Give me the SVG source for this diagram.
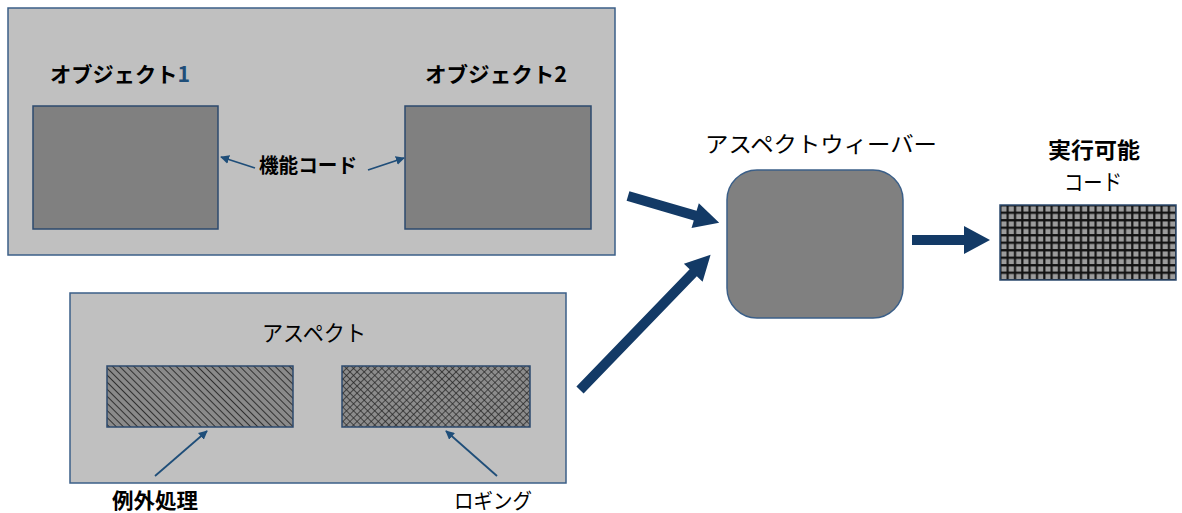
<svg xmlns="http://www.w3.org/2000/svg" width="1182" height="513" viewBox="0 0 1182 513">
  <style>
    .panel { fill: #c0c0c0; stroke: #3b5f88; stroke-width: 1.5; }
    .obj { fill: #808080; stroke: #2c4a6e; stroke-width: 1.5; }
    .lbl { font-family: "Noto Sans CJK JP", "Noto Sans", sans-serif; fill: #000; }
    .b { font-weight: bold; }
    .thin { stroke: #1f4e79; stroke-width: 1.8; fill: none; }
    .thick { fill: #133a66; }
  </style>
  <defs>
    <!-- diagonal hatch for exception handling -->
    <pattern id="hatch" patternUnits="userSpaceOnUse" width="5" height="5" patternTransform="rotate(-45)">
      <rect width="5" height="5" fill="#8a8a8a"/>
      <line x1="0" y1="0" x2="0" y2="5" stroke="#1a1a1a" stroke-width="1.6"/>
    </pattern>
    <!-- diamond crosshatch for logging -->
    <pattern id="cross" patternUnits="userSpaceOnUse" width="5" height="5" patternTransform="rotate(45)">
      <rect width="5" height="5" fill="#8c8c8c"/>
      <line x1="0" y1="0" x2="0" y2="5" stroke="#222" stroke-width="1.4"/>
      <line x1="0" y1="0" x2="5" y2="0" stroke="#222" stroke-width="1.4"/>
    </pattern>
    <!-- square grid for executable code -->
    <pattern id="grid" patternUnits="userSpaceOnUse" x="1000" y="205" width="7.33" height="7.5">
      <rect width="7.33" height="7.5" fill="#111"/>
      <rect x="1.4" y="1.4" width="5.2" height="5.2" fill="#9c9c9c"/>
    </pattern>
    <marker id="tip" viewBox="0 0 10 10" refX="9" refY="5" markerWidth="5" markerHeight="5" orient="auto">
      <path d="M0,0 L10,5 L0,10 Z" fill="#1f4e79"/>
    </marker>
  </defs>

  <!-- objects panel -->
  <g id="objects">
    <rect class="panel" x="8" y="8" width="607" height="247"/>
    <text class="lbl b" x="50" y="82" font-size="21" textLength="140" lengthAdjust="spacingAndGlyphs">オブジェクト<tspan fill="#1f4e79">1</tspan></text>
    <text class="lbl b" x="425" y="82" font-size="21" textLength="142" lengthAdjust="spacingAndGlyphs">オブジェクト2</text>
  </g>
  <g id="object1">
    <rect class="obj" x="33" y="106" width="185" height="123"/>
  </g>
  <g id="object2">
    <rect class="obj" x="405" y="106" width="186" height="123"/>
  </g>
  <g id="function-code">
    <text class="lbl b" x="259" y="173" font-size="20" textLength="98" lengthAdjust="spacingAndGlyphs">機能コード</text>
  </g>

  <!-- aspect panel -->
  <g id="aspect">
    <rect class="panel" x="70" y="293" width="496" height="190"/>
    <text class="lbl" x="262" y="341" font-size="22" textLength="104" lengthAdjust="spacingAndGlyphs">アスペクト</text>
  </g>
  <g id="exception-handling">
    <rect x="107" y="366" width="186" height="61" fill="url(#hatch)" stroke="#2c4a6e" stroke-width="1.5"/>
    <text class="lbl b" x="112" y="508" font-size="21" textLength="86" lengthAdjust="spacingAndGlyphs">例外処理</text>
  </g>
  <g id="logging">
    <rect x="342" y="366" width="188" height="61" fill="url(#cross)" stroke="#2c4a6e" stroke-width="1.5"/>
    <text class="lbl" x="454" y="508" font-size="21" textLength="78" lengthAdjust="spacingAndGlyphs">ロギング</text>
  </g>

  <!-- aspect weaver -->
  <g id="aspect-weaver">
    <text class="lbl" x="705" y="152" font-size="22" textLength="232" lengthAdjust="spacingAndGlyphs">アスペクトウィーバー</text>
    <rect x="727" y="170" width="176" height="148" rx="30" ry="30" fill="#808080" stroke="#3b5f88" stroke-width="1.5"/>
  </g>

  <!-- executable code -->
  <g id="executable-code">
    <text class="lbl b" x="1048" y="158" font-size="22" textLength="92" lengthAdjust="spacingAndGlyphs">実行可能</text>
    <text class="lbl" x="1064" y="190" font-size="22" textLength="58" lengthAdjust="spacingAndGlyphs">コード</text>
    <rect x="1000" y="205" width="176" height="75" fill="url(#grid)" stroke="#2c4a6e" stroke-width="1.5"/>
  </g>

  <!-- connectors -->
  <g id="connectors">
    <line class="thin" x1="255" y1="168" x2="221" y2="157" marker-end="url(#tip)"/>
    <line class="thin" x1="368" y1="170" x2="404" y2="158" marker-end="url(#tip)"/>
    <line class="thin" x1="155" y1="476" x2="207" y2="431" marker-end="url(#tip)"/>
    <line class="thin" x1="497" y1="476" x2="446" y2="431" marker-end="url(#tip)"/>
    <!-- heavy arrows into and out of the weaver -->
    <g transform="translate(628,196) rotate(16.3)">
      <path class="thick" d="M0,-5 L70,-5 L70,-13 L95,0 L70,13 L70,5 L0,5 Z"/>
    </g>
    <g transform="translate(580,390) rotate(-46)">
      <path class="thick" d="M0,-5 L163,-5 L163,-13 L188,0 L163,13 L163,5 L0,5 Z"/>
    </g>
    <g transform="translate(912,240)">
      <path class="thick" d="M0,-5 L52,-5 L52,-14 L78,0 L52,14 L52,5 L0,5 Z"/>
    </g>
  </g>
</svg>
